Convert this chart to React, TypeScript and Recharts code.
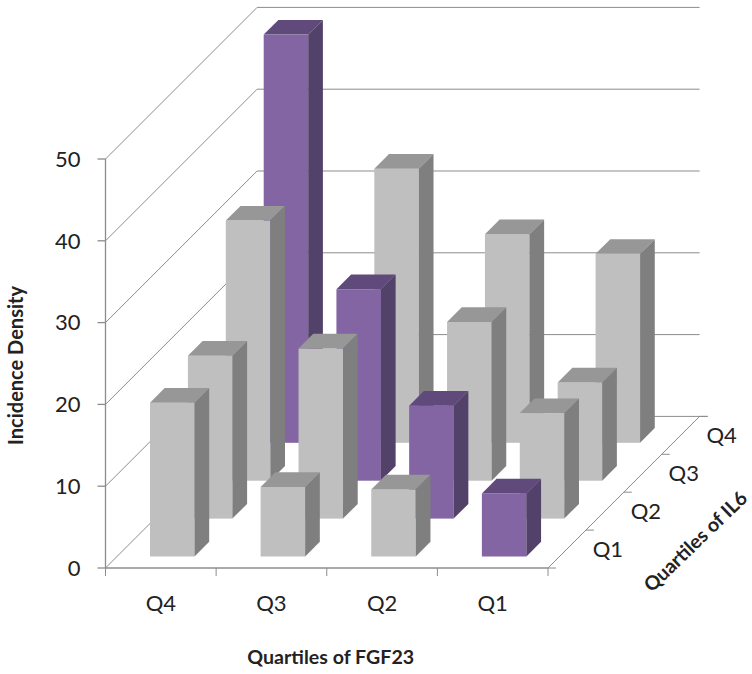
import { Bar, BarChart, ReferenceLine, XAxis, YAxis } from "recharts";

// FGF23 quartiles run left to right, IL6 quartiles run front to back
const FGF23_QUARTILES = ["Q4", "Q3", "Q2", "Q1"];
const IL6_QUARTILES = ["Q1", "Q2", "Q3", "Q4"];
const IL6_Q1 = [18.8, 8.5, 8.2, 7.7];
const IL6_Q2 = [19.9, 20.8, 13.8, 12.9];
const IL6_Q3 = [31.8, 23.4, 19.4, 12.0];
const IL6_Q4 = [49.9, 33.5, 25.5, 23.1];
const Y_TICKS = [0, 10, 20, 30, 40, 50];

const data = FGF23_QUARTILES.map((name, i) => ({
  name,
  Q1: IL6_Q1[i],
  Q2: IL6_Q2[i],
  Q3: IL6_Q3[i],
  Q4: IL6_Q4[i],
}));

const WIDTH = 752;
const HEIGHT = 674;
const PLOT_LEFT = 105.5;
const PLOT_RIGHT = 548;
const BAND = (PLOT_RIGHT - PLOT_LEFT) / FGF23_QUARTILES.length;
const BAR_WIDTH = 44.5;
const BAR_DEPTH = 14.7;
const ROW_STEP = 37.9;
const ROW_INSET = 11.5;
const WALL_DEPTH = ROW_STEP * IL6_QUARTILES.length;

const LINE = "#8c8c8c";
const TEXT = "#222222";
const FONT = "Lato, 'Open Sans', sans-serif";
const GREY = { front: "#bfbfbf", top: "#979797", side: "#7f7f7f" };
const PURPLE = { front: "#8265a2", top: "#5f4a7b", side: "#524168" };

function Bar3D(props: any, row: number) {
  const { x, y, width, height, payload } = props;
  const off = ROW_INSET + ROW_STEP * row;
  const c = payload.name === IL6_QUARTILES[row] ? PURPLE : GREY;
  const fx = x + off;
  const fy = y - off;
  const d = BAR_DEPTH;
  return (
    <g>
      <rect x={fx} y={fy} width={width} height={height} fill={c.front} />
      <polygon
        points={`${fx},${fy} ${fx + d},${fy - d} ${fx + width + d},${fy - d} ${fx + width},${fy}`}
        fill={c.top}
      />
      <polygon
        points={`${fx + width},${fy} ${fx + width + d},${fy - d} ${fx + width + d},${fy + height - d} ${fx + width},${fy + height}`}
        fill={c.side}
      />
    </g>
  );
}

function WallLine(props: any) {
  const { x1, x2, y1 } = props;
  return (
    <polyline
      points={`${x1},${y1} ${x1 + WALL_DEPTH},${y1 - WALL_DEPTH} ${x2 + WALL_DEPTH},${y1 - WALL_DEPTH}`}
      fill="none"
      stroke={LINE}
      strokeWidth={1}
    />
  );
}

function Floor(props: any) {
  const { x1, x2, y1 } = props;
  return (
    <g>
      <polyline
        points={`${x1},${y1} ${x1 + WALL_DEPTH},${y1 - WALL_DEPTH} ${x2 + WALL_DEPTH + 8},${y1 - WALL_DEPTH}`}
        fill="none"
        stroke={LINE}
      />
      <line x1={x2} y1={y1} x2={x2 + WALL_DEPTH} y2={y1 - WALL_DEPTH} stroke={LINE} />
      <line x1={x2} y1={y1} x2={x2 + 8} y2={y1} stroke={LINE} />
      {IL6_QUARTILES.map((q, i) => {
        const edge = ROW_STEP * (i + 1);
        const mid = ROW_STEP * (i + 0.5);
        return (
          <g key={q}>
            <line x1={x2 + edge} y1={y1 - edge} x2={x2 + edge + 8} y2={y1 - edge} stroke={LINE} />
            <text
              x={x2 + mid + 41}
              y={y1 - mid - 1}
              textAnchor="middle"
              dominantBaseline="central"
              fontFamily={FONT}
              fontSize={22}
              fill={TEXT}
            >
              {q}
            </text>
          </g>
        );
      })}
      <text
        x={695}
        y={541}
        transform="rotate(-44 695 541)"
        textAnchor="middle"
        dominantBaseline="central"
        fontFamily={FONT}
        fontSize={19.5}
        fontWeight={700}
        fill={TEXT}
      >
        Quartiles of IL6
      </text>
    </g>
  );
}

function XTick(props: any) {
  const { x, y, payload, index } = props;
  const left = x - BAND / 2;
  return (
    <g>
      <line x1={left} y1={y - 8} x2={left} y2={y} stroke={LINE} />
      {index === FGF23_QUARTILES.length - 1 && (
        <line x1={left + BAND} y1={y - 8} x2={left + BAND} y2={y} stroke={LINE} />
      )}
      <text
        x={x}
        y={y + 26}
        textAnchor="middle"
        dominantBaseline="central"
        fontFamily={FONT}
        fontSize={22}
        fill={TEXT}
      >
        {payload.value}
      </text>
    </g>
  );
}

export default function App() {
  const rows = ["Q4", "Q3", "Q2", "Q1"];
  return (
    <div style={{ position: "absolute", left: 0, top: 0, width: WIDTH, height: HEIGHT, background: "#fff" }}>
      <BarChart
        width={WIDTH}
        height={HEIGHT}
        data={data}
        barSize={BAR_WIDTH}
        barGap={-BAR_WIDTH}
        margin={{ top: 159, right: WIDTH - PLOT_RIGHT, bottom: 0, left: 0 }}
      >
        <XAxis
          dataKey="name"
          height={106}
          stroke={LINE}
          strokeWidth={1.3}
          tickLine={false}
          tick={<XTick />}
          interval={0}
          label={{
            value: "Quartiles of FGF23",
            position: "insideBottom",
            offset: 10,
            dx: 4,
            fontFamily: FONT,
            fontSize: 19.6,
            fontWeight: 700,
            fill: TEXT,
          }}
        />
        <YAxis
          width={PLOT_LEFT}
          domain={[0, 50]}
          ticks={Y_TICKS}
          interval={0}
          stroke={LINE}
          strokeWidth={1.3}
          tickSize={8}
          tickMargin={17}
          tick={{ fontFamily: FONT, fontSize: 22, fill: TEXT }}
          label={{
            value: "Incidence Density",
            angle: -90,
            position: "insideLeft",
            offset: 16,
            textAnchor: "middle",
            dy: 2,
            fontFamily: FONT,
            fontSize: 20,
            fontWeight: 700,
            fill: TEXT,
          }}
        />
        {Y_TICKS.slice(1).map((v) => (
          <ReferenceLine key={v} y={v} shape={WallLine} zIndex={-100} />
        ))}
        <ReferenceLine y={0} shape={Floor} zIndex={-100} />
        {rows.map((r) => (
          <Bar
            key={r}
            dataKey={r}
            isAnimationActive={false}
            shape={(p: any) => Bar3D(p, IL6_QUARTILES.indexOf(r))}
          />
        ))}
      </BarChart>
    </div>
  );
}
